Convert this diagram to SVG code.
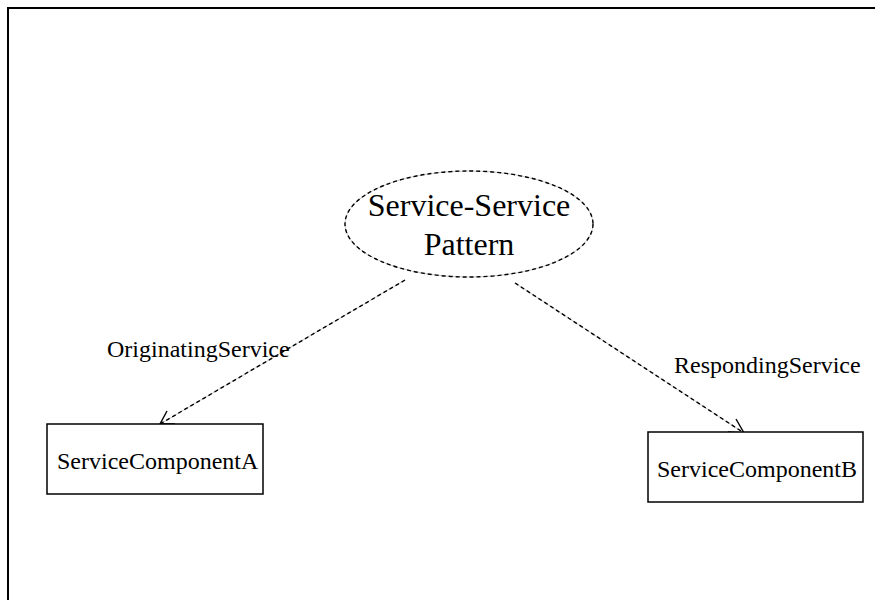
<svg xmlns="http://www.w3.org/2000/svg" width="875" height="600" viewBox="0 0 875 600">
  <style>
    .frame { fill: none; stroke: #000; stroke-width: 2; }
    .box { fill: #fff; stroke: #000; stroke-width: 1.5; }
    .oval-base { fill: #fff; stroke: #c8c8c8; stroke-width: 1; }
    .dash { fill: none; stroke: #000; stroke-width: 1.4; stroke-dasharray: 4 3; }
    .rail { fill: none; stroke: #c8c8c8; stroke-width: 1; }
    .head { fill: none; stroke: #000; stroke-width: 1.4; }
    text { font-family: "Liberation Serif", "Times New Roman", serif; fill: #000; }
    .big { font-size: 32px; }
    .lbl { font-size: 24px; }
  </style>

  <!-- outer frame, open at right and bottom -->
  <rect class="frame" x="8" y="8" width="900" height="700"/>

  <!-- associations -->
  <g id="connectors">
    <g id="originating">
      <line class="rail" x1="405" y1="280" x2="160" y2="424"/>
      <line class="dash" x1="405" y1="280" x2="160" y2="424"/>
      <polyline class="head" points="167,411 160,424 175,424"/>
      <text class="lbl" x="107" y="357">OriginatingService</text>
    </g>
    <g id="responding">
      <line class="rail" x1="515" y1="283" x2="744" y2="433"/>
      <line class="dash" x1="515" y1="283" x2="744" y2="433"/>
      <polyline class="head" points="736,419 744,433 728,432"/>
      <text class="lbl" x="674" y="373">RespondingService</text>
    </g>
  </g>

  <!-- collaboration pattern -->
  <g id="pattern">
    <ellipse class="oval-base" cx="469" cy="224" rx="124" ry="53"/>
    <ellipse class="dash" cx="469" cy="224" rx="124" ry="53"/>
    <text class="big" x="469" y="216" text-anchor="middle">Service-Service</text>
    <text class="big" x="469" y="255" text-anchor="middle">Pattern</text>
  </g>

  <g id="componentA">
    <rect class="box" x="47" y="424" width="216" height="70"/>
    <text class="lbl" x="57" y="469">ServiceComponentA</text>
  </g>

  <g id="componentB">
    <rect class="box" x="648" y="432" width="215" height="70"/>
    <text class="lbl" x="657" y="477">ServiceComponentB</text>
  </g>
</svg>
